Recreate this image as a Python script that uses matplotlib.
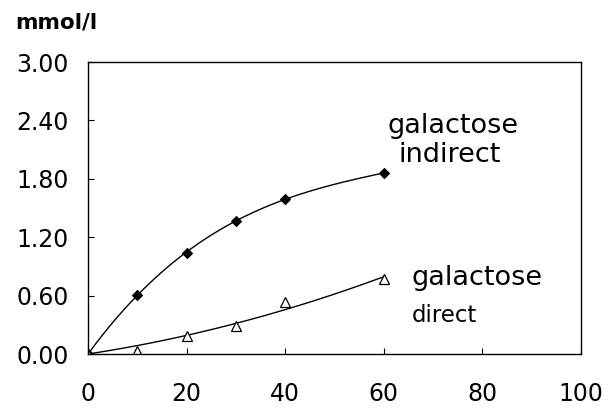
import numpy as np
import matplotlib.pyplot as plt

plt.rcParams['font.family'] = ['DejaVu Sans']

# time points and concentrations (mmol/l)
t = [0, 10, 20, 30, 40, 60]
indirect = [0.00, 0.61, 1.04, 1.37, 1.59, 1.86]
direct = [0.00, 0.03, 0.18, 0.29, 0.53, 0.77]

xticks = [0, 20, 40, 60, 80, 100]
yticks = [0.00, 0.60, 1.20, 1.80, 2.40, 3.00]

fig = plt.figure(figsize=(6.11, 4.11), dpi=100)
ax = fig.add_axes([88 / 611, 57 / 411, 493 / 611, 292 / 411])


def fit_origin(x, y, deg):
    # least squares polynomial with no constant term, so the curve starts at 0
    x = np.asarray(x, float)
    A = np.column_stack([x ** k for k in range(1, deg + 1)])
    c, *_ = np.linalg.lstsq(A, np.asarray(y, float), rcond=None)
    return lambda v: sum(c[k - 1] * v ** k for k in range(1, deg + 1))


tt = np.linspace(0, 60, 200)
f_ind = fit_origin(t, indirect, 3)
f_dir = fit_origin(t, direct, 2)
ax.plot(tt, f_ind(tt), color='black', lw=1.0)
ax.plot(tt, f_dir(tt), color='black', lw=1.0)

ax.plot(t, indirect, 'D', color='black', ms=5.5, markeredgewidth=0.8)
ax.plot(t, direct, '^', markerfacecolor='white', markeredgecolor='black', ms=7, markeredgewidth=0.9)

ax.set_xlim(0, 100)
ax.set_ylim(0, 3.0)
ax.set_xticks(xticks)
ax.set_yticks(yticks)
ax.set_yticklabels(['%.2f' % v for v in yticks])
ax.tick_params(direction='in', length=4, width=0.8, labelsize=17, top=False, right=False)
ax.tick_params(axis='x', pad=20)
ax.tick_params(axis='y', pad=14)
for s in ax.spines.values():
    s.set_linewidth(1.0)

ax.text(60.85, 2.27, 'galactose', fontsize=19.5, va='baseline', ha='left')
ax.text(62.9, 1.97, 'indirect', fontsize=19.5, va='baseline', ha='left')
ax.text(65.7, 0.71, 'galactose', fontsize=19.5, va='baseline', ha='left')
ax.text(65.7, 0.33, 'direct', fontsize=16.5, va='baseline', ha='left')

fig.text(15 / 611, 1 - 29 / 411, 'mmol/l', fontsize=15.5, fontweight='bold', va='baseline', ha='left')

fig.savefig('out.png', dpi=100)
